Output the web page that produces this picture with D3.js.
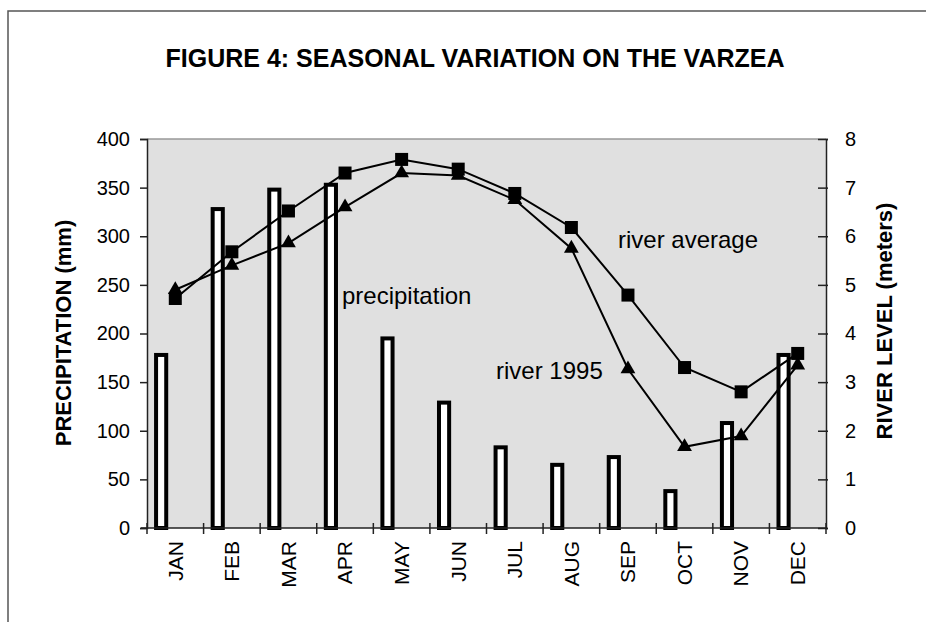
<html>
  <head>
    <meta charset="utf-8" />
    <script src="https://d3js.org/d3.v7.min.js"></script>
    <style>
      body { margin: 0; background: #fff; }
      text { font-family: "Liberation Sans", Arial, sans-serif; }
    </style>
  </head>
  <body>
    <div class="container"></div>
  </body>
</html>

<script>
  const months = ["JAN", "FEB", "MAR", "APR", "MAY", "JUN", "JUL", "AUG", "SEP", "OCT", "NOV", "DEC"];
  const precipitation = [180, 330, 350, 355, 197, 131, 85, 67, 75, 40, 110, 180];
  const riverAverage = [4.72, 5.68, 6.52, 7.3, 7.58, 7.38, 6.88, 6.18, 4.79, 3.3, 2.8, 3.59];
  const river1995 = [4.9, 5.4, 5.86, 6.6, 7.3, 7.25, 6.75, 5.75, 3.27, 1.67, 1.89, 3.35];
  const precipTicks = [0, 50, 100, 150, 200, 250, 300, 350, 400];
  const levelTicks = [0, 1, 2, 3, 4, 5, 6, 7, 8];

  const width = 926;
  const height = 622;
  const plot = { left: 147, right: 826, top: 139, bottom: 528 };

  const svg = d3
    .select(".container")
    .append("svg")
    .attr("width", width)
    .attr("height", height);

  // outer frame of the chart area
  svg
    .append("rect")
    .attr("x", 8)
    .attr("y", 11)
    .attr("width", 940)
    .attr("height", 640)
    .attr("fill", "none")
    .attr("stroke", "#555")
    .attr("stroke-width", 1.5);

  const x = d3.scaleBand().domain(months).range([plot.left, plot.right]);
  const yLeft = d3.scaleLinear().domain([0, 400]).range([plot.bottom, plot.top]);
  const yRight = d3.scaleLinear().domain([0, 8]).range([plot.bottom, plot.top]);
  const bw = x.bandwidth();

  // plot background
  svg
    .append("rect")
    .attr("x", plot.left)
    .attr("y", plot.top)
    .attr("width", plot.right - plot.left)
    .attr("height", plot.bottom - plot.top)
    .attr("fill", "#e0e0e0");
  svg
    .append("line")
    .attr("x1", plot.left)
    .attr("x2", plot.right)
    .attr("y1", plot.top)
    .attr("y2", plot.top)
    .attr("stroke", "#999")
    .attr("stroke-width", 1.5);

  // bars
  const sw = 4;
  svg
    .append("g")
    .selectAll("rect")
    .data(months)
    .join("rect")
    .attr("x", (d) => x(d) + bw * 0.125 + sw / 2)
    .attr("width", bw * 0.25 - sw)
    .attr("y", (d, i) => yLeft(precipitation[i]) + sw / 2)
    .attr("height", (d, i) => yLeft(0) - yLeft(precipitation[i]) - sw / 2)
    .attr("fill", "white")
    .attr("stroke", "black")
    .attr("stroke-width", sw);

  // axes
  const axisColor = "#222";
  const leftAxis = svg
    .append("g")
    .attr("transform", `translate(${plot.left},0)`)
    .call(d3.axisLeft(yLeft).tickValues(precipTicks).tickSize(7).tickPadding(10));
  leftAxis.select(".domain").attr("stroke", axisColor).attr("stroke-width", 1.5);
  leftAxis.selectAll(".tick line").attr("stroke", axisColor).attr("stroke-width", 1.5);
  leftAxis.selectAll("text").attr("font-size", 20).attr("fill", "black").attr("font-family", "Liberation Sans, Arial, sans-serif");

  const rightAxis = svg
    .append("g")
    .attr("transform", `translate(${plot.right},0)`)
    .call(d3.axisRight(yRight).tickValues(levelTicks).tickSize(2).tickPadding(17));
  rightAxis.select(".domain").attr("stroke", axisColor).attr("stroke-width", 1.5);
  rightAxis.selectAll(".tick line").attr("x1", -8).attr("stroke", axisColor).attr("stroke-width", 1.5);
  rightAxis.selectAll("text").attr("font-size", 20).attr("fill", "black").attr("font-family", "Liberation Sans, Arial, sans-serif");

  // category axis: ticks on band edges, labels rotated
  const xAxis = svg.append("g");
  xAxis
    .append("line")
    .attr("x1", plot.left - 6)
    .attr("x2", plot.right)
    .attr("y1", plot.bottom)
    .attr("y2", plot.bottom)
    .attr("stroke", axisColor)
    .attr("stroke-width", 1.5);
  xAxis
    .selectAll(".edge")
    .data(months.concat(["end"]))
    .join("line")
    .attr("class", "edge")
    .attr("x1", (d, i) => (i < months.length ? x(d) : plot.right))
    .attr("x2", (d, i) => (i < months.length ? x(d) : plot.right))
    .attr("y1", plot.bottom - 5)
    .attr("y2", plot.bottom + 6)
    .attr("stroke", axisColor)
    .attr("stroke-width", 1.5);
  xAxis
    .selectAll("text")
    .data(months)
    .join("text")
    .attr("transform", (d) => `translate(${x(d) + bw / 2},541) rotate(-90)`)
    .attr("text-anchor", "end")
    .attr("dy", "0.35em")
    .attr("font-size", 21)
    .text((d) => d);

  // river lines
  const line = d3
    .line()
    .x((d, i) => x(months[i]) + bw / 2)
    .y((d) => yRight(d));

  svg
    .append("path")
    .datum(river1995)
    .attr("d", line)
    .attr("fill", "none")
    .attr("stroke", "black")
    .attr("stroke-width", 2);
  svg
    .append("path")
    .datum(riverAverage)
    .attr("d", line)
    .attr("fill", "none")
    .attr("stroke", "black")
    .attr("stroke-width", 2);

  svg
    .append("g")
    .selectAll("path")
    .data(river1995)
    .join("path")
    .attr("d", d3.symbol().type(d3.symbolTriangle).size(95))
    .attr("transform", (d, i) => `translate(${x(months[i]) + bw / 2},${yRight(d)})`)
    .attr("fill", "black");

  svg
    .append("g")
    .selectAll("rect")
    .data(riverAverage)
    .join("rect")
    .attr("x", (d, i) => x(months[i]) + bw / 2 - 6.5)
    .attr("y", (d) => yRight(d) - 6.5)
    .attr("width", 13)
    .attr("height", 13)
    .attr("fill", "black");

  // annotations
  const notes = [
    { t: "river average", x: 618, y: 248 },
    { t: "precipitation", x: 342, y: 304 },
    { t: "river 1995", x: 496, y: 379 },
  ];
  svg
    .append("g")
    .selectAll("text")
    .data(notes)
    .join("text")
    .attr("x", (d) => d.x)
    .attr("y", (d) => d.y)
    .attr("font-size", 24)
    .text((d) => d.t);

  // titles
  svg
    .append("text")
    .attr("x", 475)
    .attr("y", 67)
    .attr("text-anchor", "middle")
    .attr("font-size", 25)
    .attr("font-weight", "bold")
    .text("FIGURE 4: SEASONAL VARIATION ON THE VARZEA");

  svg
    .append("text")
    .attr("transform", "translate(71,333) rotate(-90)")
    .attr("text-anchor", "middle")
    .attr("font-size", 22)
    .attr("font-weight", "bold")
    .text("PRECIPITATION (mm)");

  svg
    .append("text")
    .attr("transform", "translate(892,321) rotate(-90)")
    .attr("text-anchor", "middle")
    .attr("font-size", 22)
    .attr("font-weight", "bold")
    .text("RIVER LEVEL (meters)");
</script>
